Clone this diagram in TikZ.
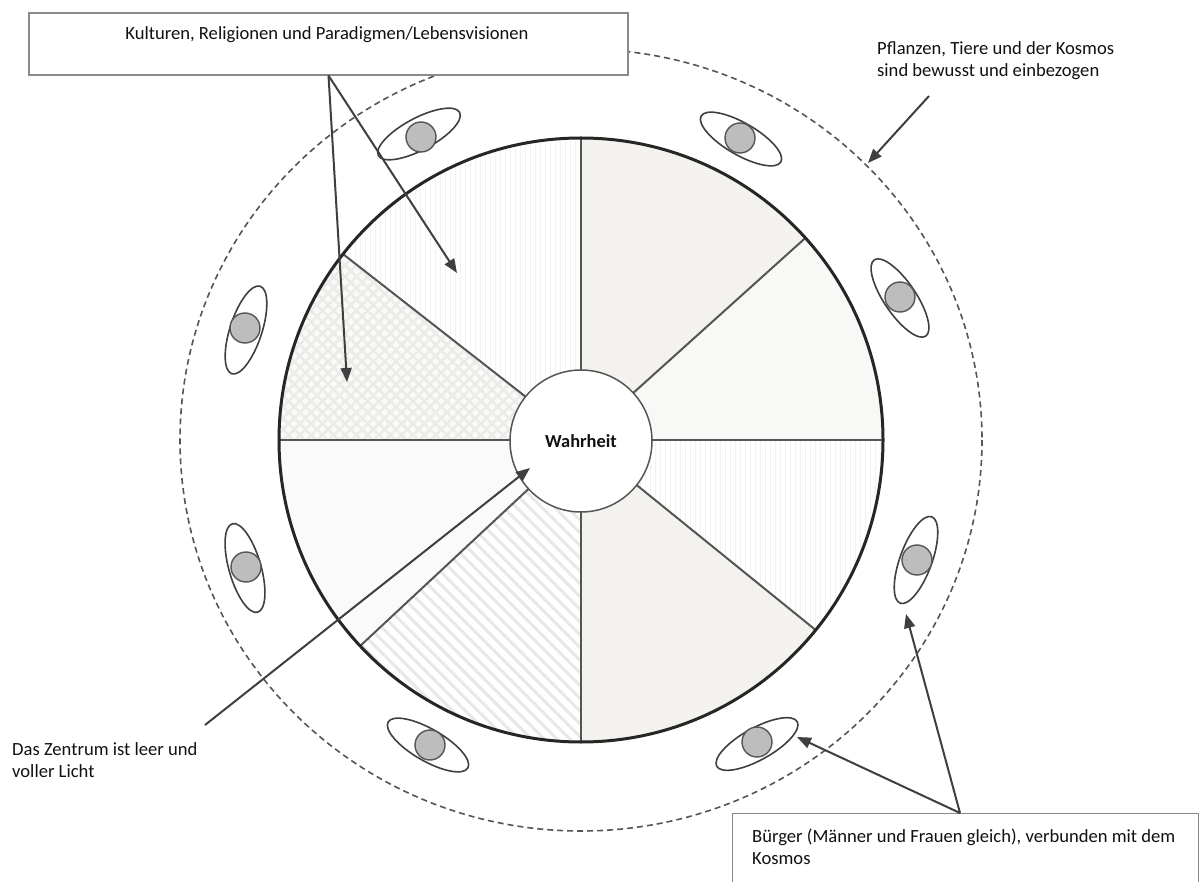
\documentclass[tikz,border=0pt]{standalone}
\usepackage{fontspec}
\setmainfont{Carlito}
\usetikzlibrary{arrows.meta,patterns.meta,shapes.geometric}

\definecolor{ink}{HTML}{111111}
\definecolor{rim}{HTML}{262626}
\definecolor{spoke}{HTML}{555555}
\definecolor{arrowgray}{HTML}{3F3F3F}
\definecolor{boxline}{HTML}{8A8A8A}
\definecolor{headfill}{HTML}{BDBDBD}
\definecolor{beige}{HTML}{F4F2EE}
\definecolor{paleA}{HTML}{F8F8F6}
\definecolor{paleB}{HTML}{FAFAFA}
\definecolor{stripe}{HTML}{E9E8E4}
\definecolor{checker}{HTML}{EDEBE7}
\definecolor{faint}{HTML}{F2F2F2}

\tikzset{
  txt/.style={font=\fontsize{18.6}{22}\selectfont, text=ink, inner sep=0pt, align=left},
  labelbox/.style={draw=boxline, line width=1.1pt, fill=white, inner sep=0pt},
  spokeline/.style={draw=spoke, line width=2pt},
  arr/.style={draw=arrowgray, line width=2pt, -{Triangle[length=14pt,width=11pt]}},
  ring/.style={ellipse, draw=arrowgray, line width=1.6pt, minimum width=92pt, minimum height=32pt, inner sep=0pt},
  head/.style={circle, draw=spoke, line width=1.4pt, fill=headfill, minimum size=30pt, inner sep=0pt},
}

\begin{document}
\begin{tikzpicture}[x=1pt,y=-1pt]
\useasboundingbox (0,0) rectangle (1202,882);
\coordinate (O) at (581,440);

% eight sectors of the wheel (polar angles run clockwise here)
\fill[paleA] (O) -- ([shift={(0:302)}]O) arc[start angle=0,end angle=-42,radius=302] -- cycle;
\fill[beige] (O) -- ([shift={(-42:302)}]O) arc[start angle=-42,end angle=-90,radius=302] -- cycle;
\fill[white, postaction={pattern={Lines[angle=90,distance=5pt,line width=0.8pt]}, pattern color=faint}]
  (O) -- ([shift={(-90:302)}]O) arc[start angle=-90,end angle=-142,radius=302] -- cycle;
\fill[paleB, postaction={pattern={Lines[angle=45,distance=8pt,line width=2.6pt]}, pattern color=checker},
  postaction={pattern={Lines[angle=-45,distance=8pt,line width=2.6pt]}, pattern color=checker}]
  (O) -- ([shift={(-142:302)}]O) arc[start angle=-142,end angle=-180,radius=302] -- cycle;
\fill[paleB] (O) -- ([shift={(-180:302)}]O) arc[start angle=-180,end angle=-223,radius=302] -- cycle;
\fill[white, postaction={pattern={Lines[angle=135,distance=9pt,line width=3pt]}, pattern color=stripe}]
  (O) -- ([shift={(-223:302)}]O) arc[start angle=-223,end angle=-270,radius=302] -- cycle;
\fill[beige] (O) -- ([shift={(-270:302)}]O) arc[start angle=-270,end angle=-321,radius=302] -- cycle;
\fill[white, postaction={pattern={Lines[angle=90,distance=5pt,line width=0.8pt]}, pattern color=faint}]
  (O) -- ([shift={(-321:302)}]O) arc[start angle=-321,end angle=-360,radius=302] -- cycle;

% spokes
\foreach \a in {0,-42,-90,-142,-180,-223,-270,-321}
  \draw[spokeline] ([shift={(\a:70)}]O) -- ([shift={(\a:301)}]O);

% rim and centre
\draw[rim, line width=3pt] (O) circle[radius=302];
\node[circle, draw=spoke, line width=1.5pt, fill=white, minimum size=142pt, inner sep=0pt,
      font=\fontsize{18.4}{22}\selectfont\bfseries, text=ink] (wahr) at (581,441) {Wahrheit};

% dashed cosmos circle
\draw[spoke, line width=1.6pt, dash pattern=on 6pt off 4pt] (O) ellipse[x radius=401, y radius=391];

% citizens around the wheel
\node[ring, rotate=28]  (r1) at (419,134) {};
\node[head]             (h1) at (421,137) {};
\node[ring, rotate=-30] (r2) at (741,139) {};
\node[head]             (h2) at (740,138) {};
\node[ring, rotate=-56] (r3) at (900,298) {};
\node[head]             (h3) at (900,297) {};
\node[ring, rotate=72]  (r4) at (246,330) {};
\node[head]             (h4) at (245,328) {};
\node[ring, rotate=-74] (r5) at (245,568) {};
\node[head]             (h5) at (246,567) {};
\node[ring, rotate=70]  (r6) at (916,560) {};
\node[head]             (h6) at (917,560) {};
\node[ring, rotate=-30] (r7) at (428,745) {};
\node[head]             (h7) at (430,745) {};
\node[ring, rotate=29]  (r8) at (757,744) {};
\node[head]             (h8) at (757,742) {};

% label boxes
\node[labelbox, minimum width=599pt, minimum height=62pt] (kultbox) at (328.5,44) {};
\node[txt, anchor=base] (kult) at (327,40) {Kulturen, Religionen und Paradigmen/Lebensvisionen};
\node[labelbox, anchor=north west, minimum width=466pt, minimum height=100pt] (buergerbox) at (732,813) {};
\node[txt, anchor=base west] (buerger) at (752,864) {Bürger (Männer und Frauen gleich), verbunden mit dem\\Kosmos};

\node[txt, anchor=base west] (pflanzen) at (877,77) {Pflanzen, Tiere und der Kosmos\\sind bewusst und einbezogen};
\node[txt, anchor=base west] (zentrum) at (12,777) {Das Zentrum ist leer und\\voller Licht};

% arrow ends
\coordinate (kA) at (347,382);
\coordinate (kB) at (457,273);
\coordinate (zS) at (205,725);
\coordinate (zT) at (530,468);
\coordinate (pS) at (929,96);
\coordinate (pT) at (868,163);
\coordinate (bS) at (960,813);
\coordinate (bA) at (797,737);
\coordinate (bB) at (906,614);

\draw[arr] (kultbox.south) -- (kA);
\draw[arr] (kultbox.south) -- (kB);
\draw[arr] (zS) -- (zT);
\draw[arr] (pS) -- (pT);
\draw[arr] (bS) -- (bA);
\draw[arr] (bS) -- (bB);
\end{tikzpicture}
\end{document}
